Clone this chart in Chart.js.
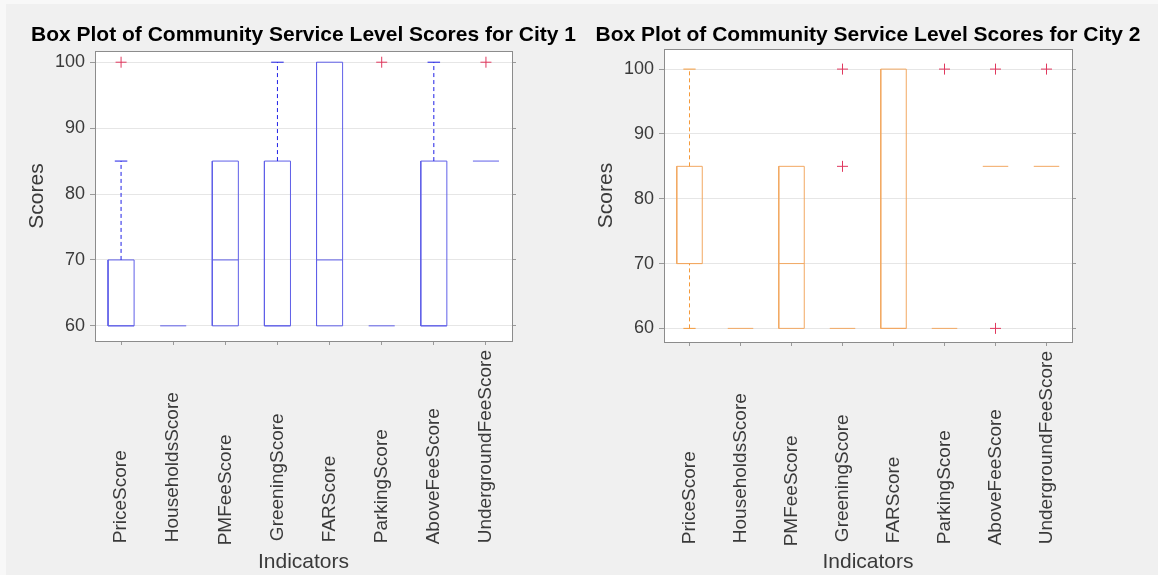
<!DOCTYPE html>
<html>
<head>
<meta charset="utf-8">
<title>Box Plot of Community Service Level Scores</title>
<script src="https://cdn.jsdelivr.net/npm/chart.js@4.4.1/dist/chart.umd.min.js"></script>
<style>
    html, body { margin: 0; padding: 0; }
    body {
        width: 1158px;
        height: 575px;
        position: relative;
        overflow: hidden;
        background:
            linear-gradient(#f8f8f8, #f8f8f8) top left / 100% 4px no-repeat,
            linear-gradient(#f8f8f8, #f8f8f8) top left / 6px 100% no-repeat,
            #f0f0f0;
    }
    canvas { position: absolute; top: 0; }
    #city1Chart { left: 0; }
    #city2Chart { left: 579px; }
</style>
</head>
<body>
<canvas id="city1Chart" width="607" height="575"></canvas>
<canvas id="city2Chart" width="578" height="575"></canvas>
<script>
const categories = ['PriceScore', 'HouseholdsScore', 'PMFeeScore', 'GreeningScore',
    'FARScore', 'ParkingScore', 'AboveFeeScore', 'UndergroundFeeScore'];
const yTicks = [60, 70, 80, 90, 100];

// City 1
const city1Q1 = [60, 60, 60, 60, 60, 60, 60, 85];
const city1Median = [60, 60, 70, 60, 70, 60, 60, 85];
const city1Q3 = [70, 60, 85, 85, 100, 60, 85, 85];
const city1Lower = [60, 60, 60, 60, 60, 60, 60, 85];
const city1Upper = [85, 60, 85, 100, 100, 60, 100, 85];
const city1Outliers = [[100], [], [], [], [], [100], [], [100]];
const city1YRange = [57.7, 101.7];

// City 2
const city2Q1 = [70, 60, 60, 60, 60, 60, 85, 85];
const city2Median = [70, 60, 70, 60, 60, 60, 85, 85];
const city2Q3 = [85, 60, 85, 60, 100, 60, 85, 85];
const city2Lower = [60, 60, 60, 60, 60, 60, 85, 85];
const city2Upper = [100, 60, 85, 60, 100, 60, 85, 85];
const city2Outliers = [[], [], [], [85, 100], [], [100], [60, 100], [100]];
const city2YRange = [57.9, 103.1];

const FONT = "'Liberation Sans', Arial, Helvetica, sans-serif";
const TEXT_COLOR = '#3a3a3a';
const X_TICK_SIZE = 19;
const BOX_HALF = 0.25;
const CAP_HALF = 0.12;

// matlab puts the start of every rotated label on one line, chart.js puts the end on the axis,
// so pad the shorter names with trailing spaces up to the longest one
const measureCtx = document.createElement('canvas').getContext('2d');
measureCtx.font = X_TICK_SIZE + 'px ' + FONT;
const spaceWidth = measureCtx.measureText(' ').width;
const longestLabel = Math.max(...categories.map(c => measureCtx.measureText(c).width));

function paddedLabel(name) {
    const n = Math.round((longestLabel - measureCtx.measureText(name).width) / spaceWidth);
    return name + ' '.repeat(Math.max(n, 0));
}

// white plot background + grey frame round the axes, like matlab's "box on"
const axesFrame = {
    id: 'axesFrame',
    beforeDraw(chart) {
        const { ctx, chartArea: a } = chart;
        ctx.save();
        ctx.fillStyle = '#ffffff';
        ctx.fillRect(a.left, a.top, a.right - a.left, a.bottom - a.top);
        ctx.restore();
    },
    afterDraw(chart) {
        const { ctx, chartArea: a } = chart;
        ctx.save();
        ctx.strokeStyle = '#8c8c8c';
        ctx.lineWidth = 1;
        ctx.strokeRect(Math.round(a.left) + 0.5, Math.round(a.top) + 0.5,
            Math.round(a.right - a.left), Math.round(a.bottom - a.top));
        ctx.restore();
    }
};

function boxOutlines(q1, q3) {
    const pts = [];
    q1.forEach((lo, i) => {
        const x = i + 1;
        const hi = q3[i];
        if (hi === lo) return; // flat box, the median line shows it
        pts.push({ x: x - BOX_HALF, y: lo }, { x: x + BOX_HALF, y: lo },
            { x: x + BOX_HALF, y: hi }, { x: x - BOX_HALF, y: hi },
            { x: x - BOX_HALF, y: lo }, { x: x, y: null });
    });
    return pts;
}

function medianLines(median) {
    const pts = [];
    median.forEach((m, i) => {
        const x = i + 1;
        pts.push({ x: x - BOX_HALF, y: m }, { x: x + BOX_HALF, y: m }, { x: x, y: null });
    });
    return pts;
}

function whiskerLines(q1, q3, lower, upper) {
    const pts = [];
    categories.forEach((c, i) => {
        const x = i + 1;
        if (upper[i] > q3[i]) pts.push({ x: x, y: q3[i] }, { x: x, y: upper[i] }, { x: x, y: null });
        if (lower[i] < q1[i]) pts.push({ x: x, y: lower[i] }, { x: x, y: q1[i] }, { x: x, y: null });
    });
    return pts;
}

function capLines(q1, q3, lower, upper) {
    const pts = [];
    categories.forEach((c, i) => {
        const x = i + 1;
        if (upper[i] > q3[i]) pts.push({ x: x - CAP_HALF, y: upper[i] }, { x: x + CAP_HALF, y: upper[i] }, { x: x, y: null });
        if (lower[i] < q1[i]) pts.push({ x: x - CAP_HALF, y: lower[i] }, { x: x + CAP_HALF, y: lower[i] }, { x: x, y: null });
    });
    return pts;
}

function outlierPoints(outliers) {
    const pts = [];
    outliers.forEach((list, i) => {
        list.forEach(v => pts.push({ x: i + 1, y: v }));
    });
    return pts;
}

function segmentSet(label, data, color, dash) {
    return {
        label: label,
        data: data,
        showLine: true,
        borderColor: color,
        borderWidth: 1,
        borderDash: dash || [],
        pointRadius: 0,
        pointHoverRadius: 0,
        tension: 0,
        spanGaps: false,
        fill: false
    };
}

function makeBoxChart(canvasId, cfg) {
    const ctx = document.getElementById(canvasId).getContext('2d');
    return new Chart(ctx, {
        type: 'scatter',
        data: {
            datasets: [
                segmentSet('Whiskers', whiskerLines(cfg.q1, cfg.q3, cfg.lower, cfg.upper), cfg.whiskerColor, [4, 3]),
                segmentSet('Caps', capLines(cfg.q1, cfg.q3, cfg.lower, cfg.upper), cfg.whiskerColor),
                segmentSet('Boxes', boxOutlines(cfg.q1, cfg.q3), cfg.boxColor),
                segmentSet('Medians', medianLines(cfg.median), cfg.boxColor),
                {
                    label: 'Outliers',
                    data: outlierPoints(cfg.outliers),
                    showLine: false,
                    pointStyle: 'cross',
                    pointRadius: 5.5,
                    pointHoverRadius: 5.5,
                    pointBorderWidth: 1,
                    pointBorderColor: '#e0385e',
                    pointBackgroundColor: '#e0385e'
                }
            ]
        },
        options: {
            responsive: false,
            animation: false,
            events: [],
            layout: { padding: 0 },
            plugins: {
                legend: { display: false },
                tooltip: { enabled: false },
                title: {
                    display: true,
                    text: cfg.title,
                    color: '#000000',
                    font: { family: FONT, size: 21, weight: 'bold' },
                    padding: { top: 22.4, bottom: cfg.titleBottom }
                }
            },
            scales: {
                x: {
                    type: 'linear',
                    position: 'bottom',
                    min: 0.5,
                    max: categories.length + 0.5,
                    afterBuildTicks: scale => {
                        scale.ticks = categories.map((c, i) => ({ value: i + 1 }));
                    },
                    afterFit: scale => { scale.height = cfg.xAxisHeight; },
                    grid: { drawOnChartArea: false, drawTicks: true, tickLength: 4, tickColor: '#9a9a9a' },
                    border: { display: false },
                    ticks: {
                        autoSkip: false,
                        minRotation: 90,
                        maxRotation: 90,
                        padding: 5,
                        color: TEXT_COLOR,
                        font: { family: FONT, size: X_TICK_SIZE },
                        callback: v => categories[v - 1] ? paddedLabel(categories[v - 1]) : ''
                    },
                    title: {
                        display: true,
                        text: 'Indicators',
                        color: TEXT_COLOR,
                        font: { family: FONT, size: 21 },
                        padding: { top: 0, bottom: 0.4 }
                    }
                },
                y: {
                    type: 'linear',
                    position: 'left',
                    min: cfg.yRange[0],
                    max: cfg.yRange[1],
                    afterBuildTicks: scale => {
                        scale.ticks = yTicks.map(v => ({ value: v }));
                    },
                    afterFit: scale => { scale.width = cfg.leftWidth; },
                    grid: { color: '#e6e6e6', drawTicks: true, tickLength: 5, tickColor: '#9a9a9a' },
                    border: { display: false },
                    ticks: {
                        padding: 5,
                        color: TEXT_COLOR,
                        font: { family: FONT, size: 18 }
                    },
                    title: {
                        display: true,
                        text: 'Scores',
                        color: TEXT_COLOR,
                        font: { family: FONT, size: 21 },
                        padding: { top: cfg.yTitlePad, bottom: 0 }
                    }
                },
                yRight: {
                    type: 'linear',
                    position: 'right',
                    min: cfg.yRange[0],
                    max: cfg.yRange[1],
                    afterBuildTicks: scale => {
                        scale.ticks = yTicks.map(v => ({ value: v }));
                    },
                    afterFit: scale => { scale.width = cfg.rightWidth; },
                    grid: { drawOnChartArea: false, drawTicks: true, tickLength: 4, tickColor: '#9a9a9a' },
                    border: { display: false },
                    ticks: { display: false }
                }
            }
        },
        plugins: [axesFrame]
    });
}

makeBoxChart('city1Chart', {
    title: 'Box Plot of Community Service Level Scores for City 1',
    q1: city1Q1, median: city1Median, q3: city1Q3,
    lower: city1Lower, upper: city1Upper, outliers: city1Outliers,
    yRange: city1YRange,
    boxColor: '#5f5fe8',
    whiskerColor: '#1f1fe6',
    titleBottom: 3.4,
    xAxisHeight: 234,
    leftWidth: 95,
    rightWidth: 95,
    yTitlePad: 24.4
});

makeBoxChart('city2Chart', {
    title: 'Box Plot of Community Service Level Scores for City 2',
    q1: city2Q1, median: city2Median, q3: city2Q3,
    lower: city2Lower, upper: city2Upper, outliers: city2Outliers,
    yRange: city2YRange,
    boxColor: '#f2a862',
    whiskerColor: '#f59a3a',
    titleBottom: 1.4,
    xAxisHeight: 233,
    leftWidth: 85,
    rightWidth: 85,
    yTitlePad: 14.4
});
</script>
</body>
</html>
